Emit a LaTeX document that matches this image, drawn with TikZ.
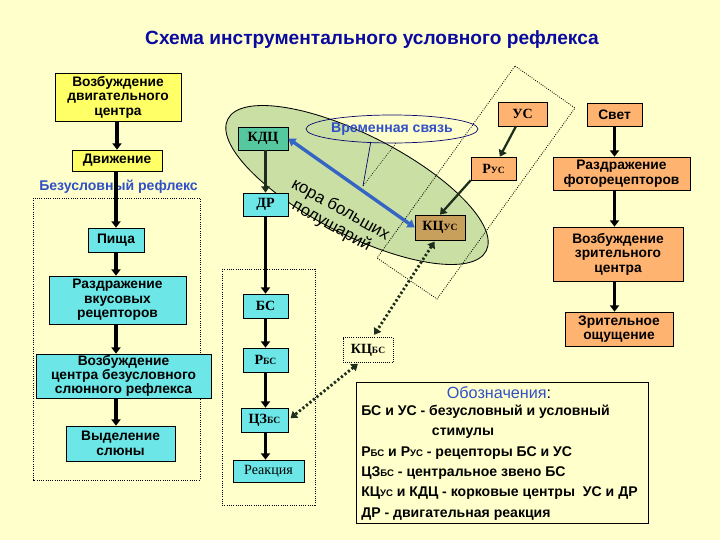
\documentclass[tikz,border=0pt]{standalone}
\usepackage{fontspec}
\setmainfont{Liberation Sans}
\newfontfamily\timesfont{Liberation Serif}
\usetikzlibrary{arrows.meta,shapes.geometric}

\definecolor{paper}{HTML}{FFFFCC}
\definecolor{boxyellow}{HTML}{FFFF66}
\definecolor{boxcyan}{HTML}{6CE6E6}
\definecolor{boxteal}{HTML}{55C8A0}
\definecolor{boxorange}{HTML}{FFB371}
\definecolor{boxbrown}{HTML}{C8A05C}
\definecolor{cortex}{HTML}{C9DFA3}
\definecolor{titleblue}{HTML}{0A0AA0}
\definecolor{labelblue}{HTML}{3050C8}
\definecolor{linkblue}{HTML}{3464C4}
\definecolor{darkarrow}{HTML}{1E2E1E}

% small upper-case index (Р_БС, КЦ_УС ...)
\newcommand{\lowidx}[1]{{\fontsize{6.8}{7}\selectfont #1}}

\tikzset{
  box/.style={draw=black, line width=0.5pt, inner sep=0pt, align=center,
    font=\bfseries\fontsize{9.8}{10.4}\selectfont},
  tbox/.style={box, font=\timesfont\bfseries\fontsize{10}{11}\selectfont},
  wh/.style 2 args={minimum width=#1*0.025cm, minimum height=#2*0.025cm},
  flow/.style={line width=2.2pt, -{Triangle[length=4.5pt,width=6.5pt]}},
  thinflow/.style={darkarrow, line width=1.6pt, -{Triangle[length=4.5pt,width=6pt]}},
  link/.style={linkblue, line width=2.4pt,
    {Triangle[length=5pt,width=6.5pt]}-{Triangle[length=5pt,width=6.5pt]}},
  dotlink/.style={darkarrow, line width=2pt, dash pattern=on 1.6pt off 1.6pt,
    {Triangle[length=4.5pt,width=6pt]}-{Triangle[length=4.5pt,width=6pt]},
    shorten <=1pt, shorten >=2pt},
  groupframe/.style={densely dotted, line width=0.6pt},
  legendtext/.style={anchor=west, inner sep=0pt, font=\bfseries\fontsize{10}{11}\selectfont},
}

\begin{document}
\begin{tikzpicture}[x=0.025cm, y=-0.025cm]
  \fill[paper] (0,0) rectangle (720,540);
  \useasboundingbox (0,0) rectangle (720,540);

  \node[titleblue, font=\bfseries\fontsize{13.6}{16}\selectfont] (title) at (372,40)
    {Схема инструментального условного рефлекса};

  % dotted groups
  \draw[groupframe] (33,198) rectangle (200,480);
  \draw[groupframe] (222,269) rectangle (315,505);

  % cortex
  \draw[fill=cortex, line width=0.6pt, rotate around={-27:(357,185)}]
    (357,185) ellipse [x radius=145, y radius=50];
  \draw[groupframe] (515,66) -- (575,108) -- (437,299) -- (377,258) -- cycle;
  \node[rotate=-29, align=center, font=\fontsize{12}{13.2}\selectfont] (cortexlabel)
    at (336,218) {кора больших\\полушарий};

  % callout
  \node[ellipse, draw=titleblue!70!black, line width=0.5pt, wh={140}{28}, inner sep=0pt,
    text=labelblue, font=\bfseries\fontsize{10}{11}\selectfont] (tempbond) at (392,129)
    {Временная связь};
  \coordinate (tailtip) at (363,186);
  \draw[line width=0.5pt, titleblue!70!black] (tempbond.213) -- (tailtip);
  \draw[densely dotted, line width=0.5pt] (tempbond.285) -- (tailtip);

  % left column
  \node[box, wh={126}{48}, fill=boxyellow] (motorcentre) at (118,97) {Возбуждение\\двигательного\\центра};
  \node[box, wh={90}{21}, fill=boxyellow] (movement) at (117,160.5) {Движение};
  \node[labelblue, font=\bfseries\fontsize{10}{11}\selectfont] (uncondlabel) at (118.5,187) {Безусловный рефлекс};
  \node[box, wh={56}{24}, fill=boxcyan] (food) at (116,240) {Пища};
  \node[box, wh={137}{48}, fill=boxcyan] (tastereceptors) at (117.5,300) {Раздражение\\вкусовых\\рецепторов};
  \node[box, wh={175}{44}, fill=boxcyan, font=\bfseries\fontsize{9.8}{9.7}\selectfont] (salivacentre) at (123.5,376) {Возбуждение\\центра безусловного\\слюнного рефлекса};
  \node[box, wh={109}{35}, fill=boxcyan] (saliva) at (120.5,443.5) {Выделение\\слюны};

  % middle column
  \node[tbox, wh={50}{23}, fill=boxteal] (kdc) at (263,138.5) {КДЦ};
  \node[tbox, wh={45}{23}, fill=boxcyan] (dr) at (265.5,204.5) {ДР};
  \node[tbox, wh={45}{24}, fill=boxcyan] (bs) at (265.5,306) {БС};
  \node[tbox, wh={45}{24}, fill=boxcyan] (rbs) at (265.5,360) {Р\lowidx{БС}};
  \node[tbox, wh={47}{24}, fill=boxcyan] (czbs) at (264.5,420) {ЦЗ\lowidx{БС}};
  \node[tbox, wh={71}{22}, fill=boxcyan, font=\timesfont\fontsize{10}{11}\selectfont] (reaction) at (268.5,471) {Реакция};

  % conditioned stimulus
  \node[tbox, wh={49}{24}, fill=boxorange] (us) at (522.5,114) {УС};
  \node[tbox, wh={45}{23}, fill=boxorange] (rus) at (493.5,168.5) {Р\lowidx{УС}};
  \node[tbox, wh={50}{25}, fill=boxbrown] (kcus) at (440,227.5) {КЦ\lowidx{УС}};
  \node[tbox, wh={50}{25}, fill=none, densely dotted] (kcbs) at (368,350) {КЦ\lowidx{БС}};

  % right column
  \node[box, wh={55}{23}, fill=boxorange] (light) at (614.5,114.5) {Свет};
  \node[box, wh={137}{33}, fill=boxorange] (photoreceptors) at (621.5,173.5) {Раздражение\\фоторецепторов};
  \node[box, wh={130}{54}, fill=boxorange] (visualcentre) at (618,254) {Возбуждение\\зрительного\\центра};
  \node[box, wh={108}{34}, fill=boxorange] (sensation) at (619,329) {Зрительное\\ощущение};

  % arrows
  \draw[flow] (movement.north |- motorcentre.south) -- (movement.north);
  \draw[flow] (food.north |- movement.south) -- (food.north);
  \draw[flow] (food.south) -- (food.south |- tastereceptors.north);
  \draw[flow] (food.south |- tastereceptors.south) -- (food.south |- salivacentre.north);
  \draw[flow] (food.south |- salivacentre.south) -- (food.south |- saliva.north);

  \draw[thinflow] (dr.north |- kdc.south) -- (dr.north);
  \draw[flow] (dr.south) -- (bs.north);
  \draw[flow] (bs.south) -- (rbs.north);
  \draw[flow] (rbs.south) -- (rbs.south |- czbs.north);
  \draw[flow] (rbs.south |- czbs.south) -- (rbs.south |- reaction.north);

  \draw[link] (kdc.east) -- (kcus.west);
  \draw[thinflow] (us) -- (rus);
  \draw[thinflow] (rus.south west) -- (kcus.north);
  \draw[dotlink] (kcus.250) -- (kcbs.70);
  \draw[dotlink] (kcbs.235) -- (czbs.east);

  \draw[flow] (light.south) -- (light.south |- photoreceptors.north);
  \draw[flow] (light.south |- photoreceptors.south) -- (light.south |- visualcentre.north);
  \draw[flow] (light.south |- visualcentre.south) -- (light.south |- sensation.north);

  % legend
  \node[draw=black, line width=0.5pt, wh={292}{141}] (legend) at (502,452.5) {};
  \node[legendtext, anchor=center, font=\fontsize{11.5}{12}\selectfont] (legendhead) at (499,392.5)
    {\textcolor{labelblue}{Обозначения}:};
  \node[legendtext] (leg1) at (361,412) {БС и УС - безусловный и условный};
  \node[legendtext, anchor=center] (leg2) at (463,433) {стимулы};
  \node[legendtext] (leg3) at (361,453) {Р\lowidx{БС} и Р\lowidx{УС} - рецепторы БС и УС};
  \node[legendtext] (leg4) at (361,473) {ЦЗ\lowidx{БС} - центральное звено БС};
  \node[legendtext] (leg5) at (361,493) {КЦ\lowidx{УС} и КДЦ - корковые центры\ \ УС и ДР};
  \node[legendtext] (leg6) at (361,514) {ДР - двигательная реакция};
\end{tikzpicture}
\end{document}
